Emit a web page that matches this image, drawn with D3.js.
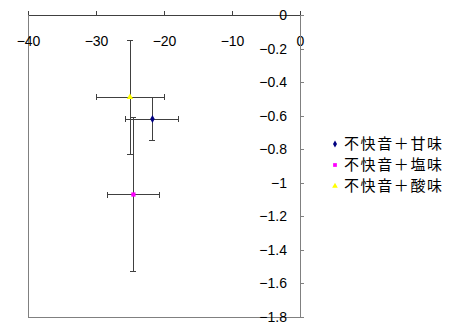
<!DOCTYPE html>
<html lang="ja">
<head>
  <meta charset="UTF-8">
  <style>
    body { margin: 0; background: #fff; }
    .tick text { font-family: Arial, "Liberation Sans", sans-serif; font-size: 14px; fill: #000; }
    .legend text { font-family: "Noto Sans CJK JP", sans-serif; font-size: 15px; letter-spacing: 1.6px; fill: #000; }
  </style>
  <script src="https://d3js.org/d3.v7.min.js"></script>
</head>
<body>
<svg id="chart"></svg>
<script>

const categories = ['不快音＋甘味', '不快音＋塩味', '不快音＋酸味'];
const xValues = [-21.7, -24.5, -25.0];
const yValues = [-0.62, -1.07, -0.49];
const xErrors = [3.9, 3.8, 5.0];
const yErrors = [0.13, 0.46, 0.34];
const xTicks = [-40, -30, -20, -10, 0];
const yTicks = [0, -0.2, -0.4, -0.6, -0.8, -1, -1.2, -1.4, -1.6, -1.8];
const colors = ['#000080', '#ff00ff', '#ffff00'];
const shapes = [d3.symbolDiamond, d3.symbolSquare, d3.symbolTriangle];

const size = {width: 454, height: 324};
const plot = {left: 28, right: 300, top: 15, bottom: 317};

const svg = d3.select('#chart')
              .attr('width', size.width)
              .attr('height', size.height);

const xScale = d3.scaleLinear().domain([-40, 0]).range([plot.left, plot.right]);
const yScale = d3.scaleLinear().domain([-1.8, 0]).range([plot.bottom, plot.top]);

const data = categories.map(function(name, i) {
  return {name: name, x: xValues[i], y: yValues[i], ex: xErrors[i], ey: yErrors[i],
          color: colors[i], shape: shapes[i]};
});

// plot area border (left and bottom)
svg.append('path')
   .attr('d', 'M' + xScale(-40) + ',' + yScale(0) + 'V' + yScale(-1.8) + 'H' + xScale(0))
   .attr('fill', 'none')
   .attr('stroke', '#808080')
   .attr('stroke-width', 1)
   .attr('shape-rendering', 'crispEdges');

// x axis along y = 0 (top), labels below the line
const xAxis = svg.append('g')
   .attr('transform', 'translate(0,' + yScale(0) + ')')
   .call(d3.axisTop(xScale).tickValues(xTicks).tickSize(4).tickSizeOuter(0));
xAxis.selectAll('.tick text').attr('y', 27).attr('dy', '0.32em');
xAxis.selectAll('path, line').attr('stroke', '#404040').attr('shape-rendering', 'crispEdges');

// y axis along x = 0 (right), labels on the left
const yAxis = svg.append('g')
   .attr('transform', 'translate(' + xScale(0) + ',0)')
   .call(d3.axisRight(yScale).tickValues(yTicks).tickSize(4).tickSizeOuter(0)
           .tickFormat(d3.format('')));
yAxis.selectAll('.tick text').attr('x', -13).attr('text-anchor', 'end');
yAxis.selectAll('path, line').attr('stroke', '#808080').attr('shape-rendering', 'crispEdges');

// error bars
const bars = svg.append('g')
   .attr('stroke', '#404040')
   .attr('stroke-width', 1)
   .attr('shape-rendering', 'crispEdges');
const cap = 3;
data.forEach(function(d) {
  const g = bars.append('g');
  g.append('line')
   .attr('x1', xScale(d.x - d.ex)).attr('x2', xScale(d.x + d.ex))
   .attr('y1', yScale(d.y)).attr('y2', yScale(d.y));
  [d.x - d.ex, d.x + d.ex].forEach(function(v) {
    g.append('line')
     .attr('x1', xScale(v)).attr('x2', xScale(v))
     .attr('y1', yScale(d.y) - cap).attr('y2', yScale(d.y) + cap);
  });
  g.append('line')
   .attr('x1', xScale(d.x)).attr('x2', xScale(d.x))
   .attr('y1', yScale(d.y - d.ey)).attr('y2', yScale(d.y + d.ey));
  [d.y - d.ey, d.y + d.ey].forEach(function(v) {
    g.append('line')
     .attr('x1', xScale(d.x) - cap).attr('x2', xScale(d.x) + cap)
     .attr('y1', yScale(v)).attr('y2', yScale(v));
  });
});

// points
svg.selectAll('.point')
   .data(data)
   .enter()
   .append('path')
   .attr('class', 'point')
   .attr('transform', function(d) {
     return 'translate(' + xScale(d.x) + ',' + yScale(d.y) + ')';
   })
   .attr('d', function(d) {
     return d3.symbol().type(d.shape).size(18)();
   })
   .attr('fill', function(d) { return d.color; });

// legend
const legend = svg.append('g').attr('class', 'legend');
const rows = legend.selectAll('g')
   .data(data)
   .enter()
   .append('g')
   .attr('transform', function(d, i) {
     return 'translate(335,' + (144 + i * 21) + ')';
   });
rows.append('path')
   .attr('d', function(d) { return d3.symbol().type(d.shape).size(14)(); })
   .attr('fill', function(d) { return d.color; });
rows.append('text')
   .attr('x', 9)
   .attr('dy', '0.35em')
   .text(function(d) { return d.name; });

</script>
</body>
</html>
